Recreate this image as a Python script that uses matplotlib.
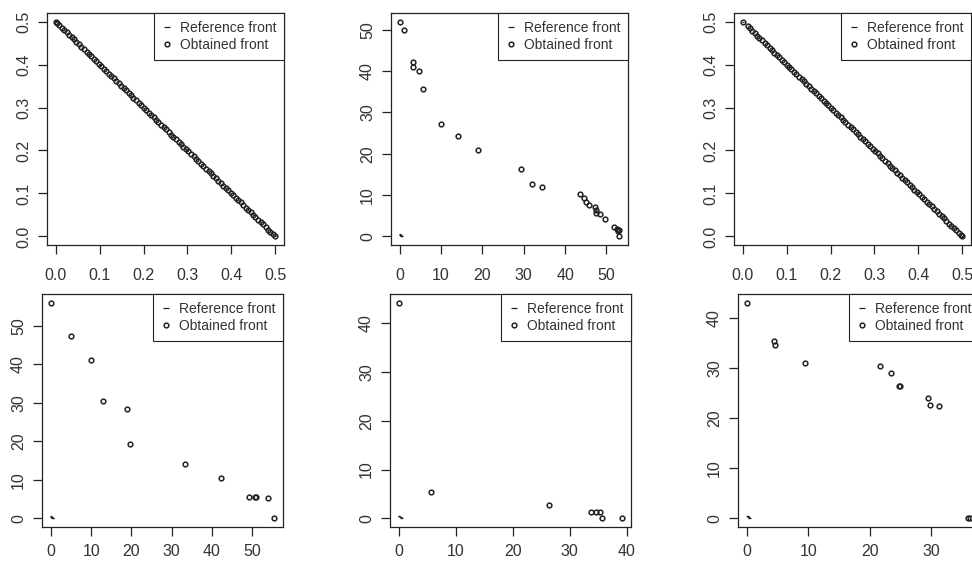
import matplotlib
matplotlib.use('Agg')
import matplotlib.pyplot as plt

plt.rcParams['font.family'] = ['Liberation Sans', 'DejaVu Sans']

W, H = 972, 561
INK = '#222222'

# ── data ──────────────────────────────────────────────────────────
ref_x = [0.0, 0.1, 0.2, 0.3, 0.4, 0.5]
ref_y = [0.5, 0.4, 0.3, 0.2, 0.1, 0.0]

p1_x = [0.000, 0.003, 0.008, 0.014, 0.019, 0.025, 0.031, 0.036, 0.041, 0.047,
        0.053, 0.058, 0.064, 0.070, 0.075, 0.081, 0.087, 0.092, 0.098, 0.104,
        0.110, 0.115, 0.121, 0.126, 0.132, 0.138, 0.143, 0.149, 0.155, 0.160,
        0.166, 0.172, 0.177, 0.183, 0.189, 0.195, 0.200, 0.206, 0.212, 0.217,
        0.223, 0.229, 0.234, 0.240, 0.246, 0.251, 0.257, 0.263, 0.268, 0.274,
        0.280, 0.285, 0.291, 0.297, 0.302, 0.308, 0.314, 0.319, 0.325, 0.331,
        0.336, 0.342, 0.348, 0.353, 0.359, 0.365, 0.370, 0.376, 0.382, 0.387,
        0.393, 0.399, 0.404, 0.410, 0.416, 0.421, 0.427, 0.433, 0.438, 0.444,
        0.450, 0.455, 0.461, 0.467, 0.472, 0.478, 0.484, 0.489, 0.495, 0.500]
p1_y = [0.500, 0.497, 0.492, 0.486, 0.481, 0.475, 0.469, 0.464, 0.459, 0.453,
        0.447, 0.442, 0.436, 0.430, 0.425, 0.419, 0.413, 0.408, 0.402, 0.396,
        0.390, 0.385, 0.379, 0.374, 0.368, 0.362, 0.357, 0.351, 0.345, 0.340,
        0.334, 0.328, 0.323, 0.317, 0.311, 0.305, 0.300, 0.294, 0.288, 0.283,
        0.277, 0.271, 0.266, 0.260, 0.254, 0.249, 0.243, 0.237, 0.232, 0.226,
        0.220, 0.215, 0.209, 0.203, 0.198, 0.192, 0.186, 0.181, 0.175, 0.169,
        0.164, 0.158, 0.152, 0.147, 0.141, 0.135, 0.130, 0.124, 0.118, 0.113,
        0.107, 0.101, 0.096, 0.090, 0.084, 0.079, 0.073, 0.067, 0.062, 0.056,
        0.050, 0.045, 0.039, 0.033, 0.028, 0.022, 0.016, 0.011, 0.005, 0.000]

p2_x = [0.0, 1.1, 3.2, 3.2, 4.75, 5.6, 10.0, 14.0, 19.0, 29.3, 32.1, 34.4,
        43.5, 44.6, 45.1, 45.7, 47.3, 47.4, 47.6, 48.5, 49.7, 51.9, 52.5,
        52.9, 53.1, 53.0]
p2_y = [52.0, 49.9, 42.1, 41.0, 40.1, 35.7, 27.3, 24.4, 20.8, 16.4, 12.8, 11.9,
        10.3, 9.3, 8.4, 7.7, 7.2, 6.4, 5.7, 5.5, 4.3, 2.3, 1.7,
        1.4, 1.5, 0.0]

p3_x = [0.000, 0.011, 0.016, 0.022, 0.027, 0.033, 0.038, 0.044, 0.050, 0.055,
        0.061, 0.066, 0.072, 0.078, 0.083, 0.089, 0.094, 0.100, 0.106, 0.111,
        0.117, 0.122, 0.128, 0.134, 0.139, 0.145, 0.150, 0.156, 0.162, 0.167,
        0.173, 0.178, 0.184, 0.190, 0.195, 0.201, 0.206, 0.212, 0.218, 0.223,
        0.229, 0.234, 0.240, 0.246, 0.251, 0.257, 0.262, 0.268, 0.274, 0.279,
        0.285, 0.290, 0.296, 0.302, 0.307, 0.313, 0.318, 0.324, 0.330, 0.335,
        0.341, 0.346, 0.352, 0.358, 0.363, 0.369, 0.374, 0.380, 0.386, 0.391,
        0.397, 0.402, 0.408, 0.414, 0.419, 0.425, 0.430, 0.436, 0.442, 0.447,
        0.453, 0.458, 0.464, 0.470, 0.475, 0.481, 0.486, 0.492, 0.497, 0.500]
p3_y = [0.500, 0.489, 0.484, 0.478, 0.473, 0.467, 0.462, 0.456, 0.450, 0.445,
        0.439, 0.434, 0.428, 0.422, 0.417, 0.411, 0.406, 0.400, 0.394, 0.389,
        0.383, 0.378, 0.372, 0.366, 0.361, 0.355, 0.350, 0.344, 0.338, 0.333,
        0.327, 0.322, 0.316, 0.310, 0.305, 0.299, 0.294, 0.288, 0.282, 0.277,
        0.271, 0.266, 0.260, 0.254, 0.249, 0.243, 0.238, 0.232, 0.226, 0.221,
        0.215, 0.210, 0.204, 0.198, 0.193, 0.187, 0.182, 0.176, 0.170, 0.165,
        0.159, 0.154, 0.148, 0.142, 0.137, 0.131, 0.126, 0.120, 0.114, 0.109,
        0.103, 0.098, 0.092, 0.086, 0.081, 0.075, 0.070, 0.064, 0.058, 0.053,
        0.047, 0.042, 0.036, 0.030, 0.025, 0.019, 0.014, 0.008, 0.003, 0.000]

p4_x = [0.1, 5.1, 10.0, 13.0, 19.0, 19.6, 33.3, 42.4, 49.2, 50.8, 51.1, 54.1, 55.5]
p4_y = [56.0, 47.3, 41.2, 30.4, 28.4, 19.4, 14.0, 10.4, 5.6, 5.5, 5.5, 5.3, 0.0]

p5_x = [0.0, 5.7, 26.3, 33.7, 34.6, 35.3, 35.7, 39.2]
p5_y = [44.2, 5.5, 2.7, 1.4, 1.4, 1.4, 0.1, 0.0]

p6_x = [0.0, 4.4, 4.6, 9.5, 21.6, 23.5, 24.7, 24.9, 29.4, 29.7, 31.2, 36.0, 36.3]
p6_y = [43.1, 35.4, 34.7, 31.1, 30.5, 29.0, 26.4, 26.4, 24.1, 22.7, 22.5, 0.1, 0.0]

unit_ticks = [0.0, 0.1, 0.2, 0.3, 0.4, 0.5]
labels = ['Reference front', 'Obtained front']

# panel boxes in pixels: left, top, right, bottom; last item = x label pad
panels = [
    ((47, 13, 284, 245), p1_x, p1_y, unit_ticks, unit_ticks, 10),
    ((391, 13, 628, 245), p2_x, p2_y, [0, 10, 20, 30, 40, 50], [0, 10, 20, 30, 40, 50], 10),
    ((734, 13, 971, 245), p3_x, p3_y, unit_ticks, unit_ticks, 10),
    ((42, 294, 283, 527), p4_x, p4_y, [0, 10, 20, 30, 40, 50], [0, 10, 20, 30, 40, 50], 5.5),
    ((390, 294, 631, 527), p5_x, p5_y, [0, 10, 20, 30, 40], [0, 10, 20, 30, 40], 5.5),
    ((738, 294, 979, 527), p6_x, p6_y, [0, 10, 20, 30], [0, 10, 20, 30, 40], 5.5),
]

fig = plt.figure(figsize=(W / 100, H / 100), dpi=100)
for (l, t, r, b), xs, ys, xt, yt, xpad in panels:
    ax = fig.add_axes([l / W, 1 - b / H, (r - l) / W, (b - t) / H])
    ax.plot(ref_x, ref_y, ls='none', marker='_', ms=1.6, mew=0.9, color=INK,
            label=labels[0])
    ax.plot(xs, ys, ls='none', marker='o', ms=3.4, mew=1.1, mfc='none',
            mec=INK, label=labels[1])
    ax.margins(0.04)
    ax.set_xticks(xt)
    ax.set_yticks(yt)
    if xt is unit_ticks:
        ax.set_xticklabels([f'{v:.1f}' for v in xt])
        ax.set_yticklabels([f'{v:.1f}' for v in yt])
    for s in ax.spines.values():
        s.set_linewidth(0.9); s.set_color(INK)
    ax.tick_params(length=6.5, width=0.9, color=INK, labelsize=11.5,
                   labelcolor='#333333')
    ax.tick_params(axis='x', pad=xpad)
    ax.tick_params(axis='y', pad=5, labelrotation=90)
    for lb in ax.get_yticklabels():
        lb.set_va('center')
    leg = ax.legend(loc='upper right', borderaxespad=0, fancybox=False,
                    framealpha=1, edgecolor=INK, fontsize=10,
                    handlelength=0.8, handletextpad=0.5, borderpad=0.55,
                    labelspacing=0.25)
    leg.get_frame().set_linewidth(0.8)
    leg.legend_handles[0].set_markersize(4)
    for txt in leg.get_texts():
        txt.set_color('#333333')

fig.savefig('out.png', dpi=100)
